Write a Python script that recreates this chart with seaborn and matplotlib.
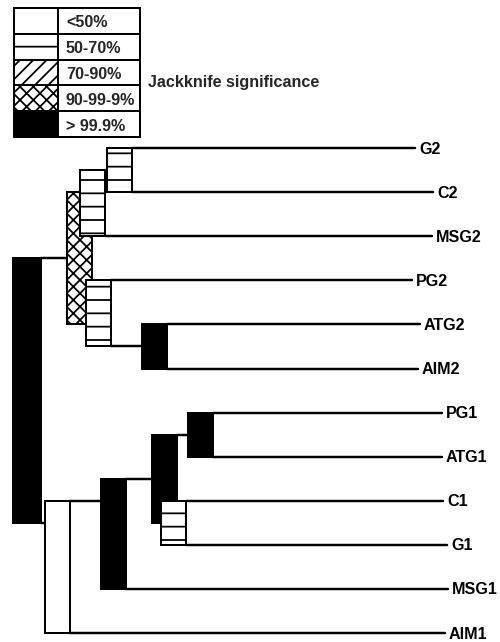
import matplotlib
matplotlib.use("Agg")
import matplotlib.pyplot as plt
from matplotlib.patches import Rectangle
import pandas as pd
import seaborn as sns

# leaves, top to bottom, with where each tip branch ends
leaf_names = ["G2", "C2", "MSG2", "PG2", "ATG2", "AIM2",
              "PG1", "ATG1", "C1", "G1", "MSG1", "AIM1"]
leaf_tip = [415, 433, 432, 412, 420, 418, 442, 442, 443, 447, 448, 445]

# internal nodes: children, horizontal position of the node, jackknife class
node_names = ["root", "W", "V", "U", "T", "S", "Z", "Y", "X", "N1", "N2"]
node_children = [("W", "Z"), ("V", "T"), ("U", "MSG2"), ("G2", "C2"),
                 ("PG2", "S"), ("ATG2", "AIM2"), ("Y", "AIM1"),
                 ("X", "MSG1"), ("N1", "N2"), ("PG1", "ATG1"), ("C1", "G1")]
node_pos = [13, 67, 80, 107, 86, 142, 45, 101, 152, 188, 161]
node_support = ["> 99.9%", "90-99-9%", "50-70%", "50-70%", "50-70%",
                "> 99.9%", "<50%", "> 99.9%", "> 99.9%", "> 99.9%", "50-70%"]

support_labels = ["<50%", "50-70%", "70-90%", "90-99-9%", "> 99.9%"]
support_hatch = ["", "-", "//", "xx", ""]
support_fill = ["white", "white", "white", "white", "black"]

# layout
Y0, DY = 148, 44.1
BOX_W = 25
LW = 2.2
FS = 14.5

sns.set_theme(style="white")
plt.rcParams["font.family"] = ["Liberation Sans", "DejaVu Sans"]
plt.rcParams["hatch.linewidth"] = 1.6

children = dict(zip(node_names, node_children))
pos = dict(zip(node_names, node_pos))
support = dict(zip(node_names, node_support))
tip = dict(zip(leaf_names, leaf_tip))


def leaves_under(n):
    if n in tip:
        return [leaf_names.index(n)]
    out = []
    for c in children[n]:
        out += leaves_under(c)
    return out


def attach_y(n):
    idx = leaves_under(n)
    return Y0 + DY * sum(idx) / len(idx)


fig = plt.figure(figsize=(6.25, 8.025), dpi=80)
ax = fig.add_axes([0, 0, 1, 1])

segs = []
boxes = []


def walk(n, depth):
    c1, c2 = children[n]
    ys = [attach_y(c1), attach_y(c2)]
    w = BOX_W + 3 if depth == 0 else BOX_W
    boxes.append((n, min(ys), max(ys), depth, w))
    x0 = pos[n] + w
    for c in (c1, c2):
        x1 = tip[c] if c in tip else pos[c]
        if x1 > x0:
            segs.append((f"{n}-{c}", x0, attach_y(c)))
            segs.append((f"{n}-{c}", x1, attach_y(c)))
        if c in children:
            walk(c, depth + 1)


walk("root", 0)
seg_df = pd.DataFrame(segs, columns=["seg", "x", "y"])
sns.lineplot(data=seg_df, x="x", y="y", units="seg", estimator=None,
             sort=False, color="black", linewidth=LW, ax=ax, legend=False)

for n, ya, yb, depth, w in boxes:
    k = support_labels.index(support[n])
    ax.add_patch(Rectangle((pos[n], ya), w, yb - ya,
                           facecolor=support_fill[k], edgecolor="black",
                           hatch=support_hatch[k], linewidth=1.8,
                           zorder=3 + depth))

for name, t in tip.items():
    ax.text(t + 4, attach_y(name) + 1, name, fontsize=FS, fontweight="bold",
            ha="left", va="center", color="black")

# legend table
ROW_TOP, ROW_H = 8, 25.8
LX0, LX1, LX2 = 14, 58, 140
for i, lab in enumerate(support_labels):
    y = ROW_TOP + i * ROW_H
    ax.add_patch(Rectangle((LX0, y), LX1 - LX0, ROW_H,
                           facecolor=support_fill[i], edgecolor="black",
                           hatch=support_hatch[i], linewidth=1.8, zorder=3))
    ax.add_patch(Rectangle((LX1, y), LX2 - LX1, ROW_H, facecolor="white",
                           edgecolor="black", linewidth=1.8, zorder=3))
    ax.text(LX1 + 8, y + ROW_H / 2 + 2, lab, fontsize=FS, fontweight="bold",
            ha="left", va="center", zorder=4)

ax.text(148, 82, "Jackknife significance", fontsize=FS, fontweight="bold",
        ha="left", va="center")

ax.set_xlim(0, 500)
ax.set_ylim(642, 0)
ax.axis("off")

fig.savefig("out.png", dpi=80)
